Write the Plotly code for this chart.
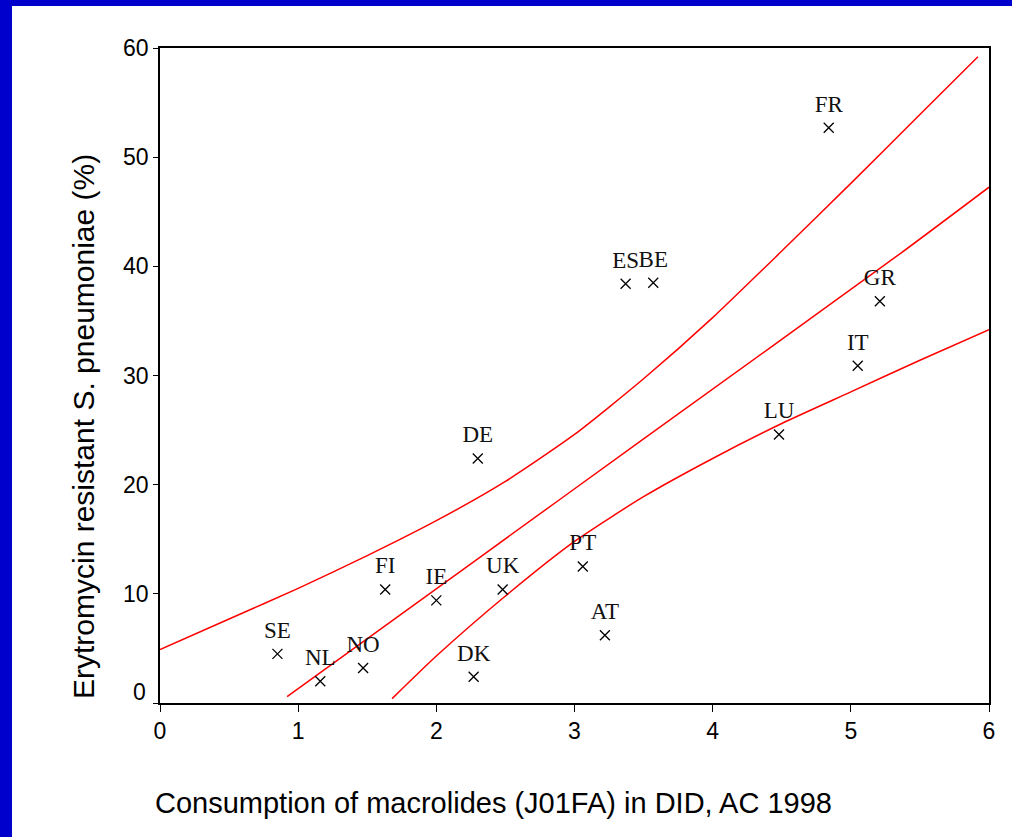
import plotly.graph_objects as go

countries = ["SE", "NL", "NO", "FI", "IE", "DK", "UK", "DE", "ES", "BE", "PT", "AT", "LU", "IT", "GR", "FR"]
consumption = [0.85, 1.16, 1.47, 1.63, 2.00, 2.27, 2.48, 2.30, 3.37, 3.57, 3.06, 3.22, 4.48, 5.05, 5.21, 4.84]
resistance = [4.5, 2.0, 3.2, 10.4, 9.4, 2.4, 10.4, 22.4, 38.4, 38.5, 12.5, 6.2, 24.6, 30.9, 36.8, 52.7]

fit_x = [0.92, 2.29, 3.49, 5.36, 6.0]
fit_y = [0.58, 13.12, 24.1, 41.19, 47.25]

upper_x = [0, 0.5, 1.0, 1.5, 2.0, 2.5, 3.0, 3.5, 4.0, 4.5, 5.0, 5.5, 5.92]
upper_y = [4.9, 7.7, 10.5, 13.5, 16.7, 20.3, 24.6, 29.7, 35.3, 41.4, 47.6, 53.9, 59.2]

lower_x = [1.68, 2.0, 2.5, 3.0, 3.5, 4.0, 4.5, 5.0, 5.5, 6.0]
lower_y = [0.4, 4.3, 9.8, 14.8, 18.9, 22.4, 25.6, 28.5, 31.4, 34.2]

x_ticks = [0, 1, 2, 3, 4, 5, 6]
y_ticks = [0, 10, 20, 30, 40, 50, 60]

fig = go.Figure()
for xs, ys in [(upper_x, upper_y), (fit_x, fit_y), (lower_x, lower_y)]:
    fig.add_trace(go.Scatter(x=xs, y=ys, mode="lines",
                             line=dict(color="#ff0000", width=1.5, shape="spline", smoothing=0.6),
                             hoverinfo="skip", showlegend=False))

# country labels (placed above an invisible, slightly larger marker)
fig.add_trace(go.Scatter(
    x=consumption, y=resistance, mode="markers+text",
    text=countries, textposition="top center",
    textfont=dict(family="Liberation Serif, Times New Roman, serif", size=23, color="#111"),
    marker=dict(size=15, color="rgba(0,0,0,0)"),
    hoverinfo="skip", showlegend=False))

fig.add_trace(go.Scatter(
    x=consumption, y=resistance, mode="markers",
    marker=dict(symbol="x-thin-open", size=10, color="#000", line=dict(color="#000", width=1.3)),
    showlegend=False))

W, H = 1012, 837
L, R, T, B = 160, 23, 48, 134
pw, ph = W - L - R, H - T - B

fig.update_layout(
    width=W, height=H,
    margin=dict(l=L, r=R, t=T, b=B),
    paper_bgcolor="white", plot_bgcolor="white",
    font=dict(family="Liberation Sans, Arial, sans-serif", color="#000"),
    xaxis=dict(range=[0, 6], tickvals=x_ticks, ticks="outside", ticklen=7, tickwidth=1.3,
               tickcolor="#000", showline=True, linecolor="#000", linewidth=1.5, mirror=True,
               showgrid=False, zeroline=False, tickfont=dict(size=23)),
    yaxis=dict(range=[0, 60], tickvals=y_ticks, ticktext=[""] + [str(v) for v in y_ticks[1:]],
               ticks="outside", ticklen=5, tickwidth=1.3,
               tickcolor="#000", showline=True, linecolor="#000", linewidth=1.5, mirror=True,
               showgrid=False, zeroline=False, tickfont=dict(size=23)),
    shapes=[
        dict(type="rect", xref="paper", yref="paper", x0=-L / pw, x1=(-L + 12) / pw,
             y0=-B / ph, y1=1 + T / ph, fillcolor="#0000cc", line=dict(width=0), layer="above"),
        dict(type="rect", xref="paper", yref="paper", x0=-L / pw, x1=1 + R / pw,
             y0=1 + (T - 6) / ph, y1=1 + T / ph, fillcolor="#0000cc", line=dict(width=0), layer="above"),
    ],
    annotations=[
        dict(text="0", xref="paper", yref="y", x=0, y=0, xanchor="right", yanchor="middle",
             xshift=-12, yshift=11, showarrow=False, font=dict(size=23)),
        dict(text="Consumption of macrolides (J01FA) in DID, AC 1998", xref="paper", yref="paper",
             x=(493 - L) / pw, y=-(803 - (T + ph)) / ph, xanchor="center", yanchor="middle",
             showarrow=False, font=dict(size=29)),
        dict(text="Erytromycin resistant S. pneumoniae (%)", xref="paper", yref="paper",
             x=(83 - L) / pw, y=1 - (427 - T) / ph, xanchor="center", yanchor="middle",
             textangle=-90, showarrow=False, font=dict(size=30)),
    ],
)

fig.write_html("out.html")
